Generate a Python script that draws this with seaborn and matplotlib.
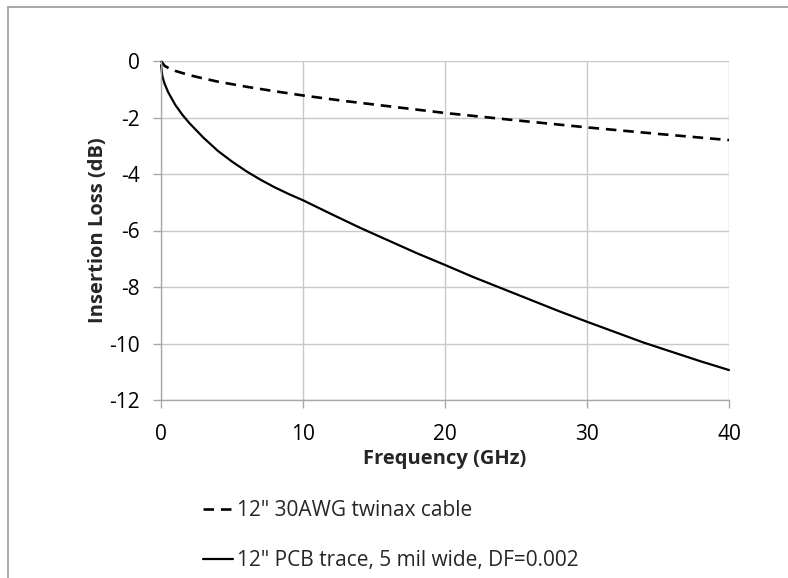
import matplotlib
matplotlib.use("Agg")
import matplotlib.pyplot as plt
import seaborn as sns
import pandas as pd
from matplotlib.patches import Rectangle

# values
twinax_freq = [0, 0.25, 0.5, 1, 2, 3, 4, 6, 8, 10, 13, 16, 20, 25, 30, 35, 40]
twinax_loss = [0, -0.17, -0.24, -0.35, -0.5, -0.62, -0.73, -0.91, -1.07, -1.22,
               -1.42, -1.6, -1.84, -2.1, -2.35, -2.58, -2.8]

pcb_freq = [0, 0.1, 0.25, 0.5, 1, 1.5, 2, 3, 4, 5, 6, 7, 8, 9, 10, 12, 14, 16,
            18, 20, 22, 24, 26, 28, 30, 32, 34, 36, 38, 40]
pcb_loss = [-0.15, -0.55, -0.8, -1.1, -1.55, -1.9, -2.2, -2.72, -3.18, -3.56,
            -3.9, -4.2, -4.47, -4.71, -4.93, -5.42, -5.9, -6.35, -6.8, -7.22,
            -7.65, -8.05, -8.45, -8.85, -9.23, -9.6, -9.97, -10.3, -10.63, -10.94]

labels = ['12" 30AWG twinax cable', '12" PCB trace, 5 mil wide, DF=0.002']

sns.set_style("white")
plt.rcParams['font.family'] = ['Open Sans', 'DejaVu Sans']
plt.rcParams['axes.unicode_minus'] = False

fig = plt.figure(figsize=(7.88, 5.78), dpi=100)
ax = fig.add_axes([161 / 788, 1 - 400 / 578, (729 - 161) / 788, (400 - 61) / 578])

df1 = pd.DataFrame({"f": twinax_freq, "loss": twinax_loss})
df2 = pd.DataFrame({"f": pcb_freq, "loss": pcb_loss})
sns.lineplot(data=df1, x="f", y="loss", ax=ax, color="black", lw=1.9,
             label=labels[0])
sns.lineplot(data=df2, x="f", y="loss", ax=ax, color="black", lw=1.6,
             label=labels[1])
ax.lines[0].set_dashes((4, 2.6))
for ln in ax.lines:
    ln.set_clip_on(False)

ax.set_xlim(0, 40)
ax.set_ylim(-12, 0)
ax.set_xticks([0, 10, 20, 30, 40])
ax.set_yticks([0, -2, -4, -6, -8, -10, -12])
ax.grid(True, color="#c8c8c8", lw=1.0)
ax.set_axisbelow(True)
for s in ["top", "right"]:
    ax.spines[s].set_visible(False)
for s in ["left", "bottom"]:
    ax.spines[s].set_color("#a8a8a8")
    ax.spines[s].set_linewidth(1.0)
ax.tick_params(axis="both", which="major", length=6, width=1.0, color="#a8a8a8",
               labelsize=15, labelcolor="black", left=True, bottom=True)
ax.tick_params(axis="y", pad=9)
ax.tick_params(axis="x", pad=11)
ax.set_xlabel("Frequency (GHz)", fontsize=14.5, fontweight="bold", labelpad=3)
ax.set_ylabel("Insertion Loss (dB)", fontsize=14.5, fontweight="bold", labelpad=1)

ax.get_legend().remove()
h, l = ax.get_legend_handles_labels()
fig.legend(h, l, loc="upper left", bbox_to_anchor=(203 / 788, 1 - 500 / 578),
           frameon=False, fontsize=15, handlelength=1.45, handletextpad=0.2,
           labelspacing=1.4, borderpad=0, borderaxespad=0)

# outer chart border (only top and left fall inside the picture)
fig.patches.append(Rectangle((8 / 788, -0.1), 1.2, 1 - 7 / 578 + 0.1,
                             transform=fig.transFigure, fill=False,
                             edgecolor="#a0a0a0", lw=1.3))

fig.savefig("out.png", dpi=100)
